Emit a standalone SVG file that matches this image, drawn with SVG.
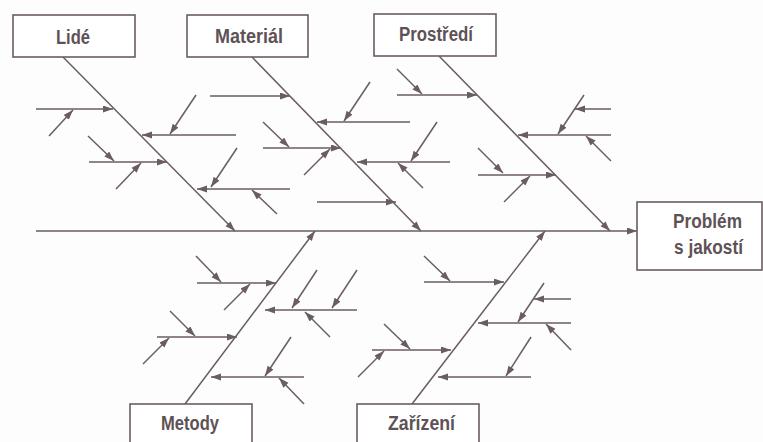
<svg xmlns="http://www.w3.org/2000/svg" width="763" height="442" viewBox="0 0 763 442">
  <defs>
    <marker id="arrow" markerUnits="userSpaceOnUse" markerWidth="11" markerHeight="8" refX="10" refY="3.5" orient="auto">
      <path d="M0,0 L10,3.5 L0,7 Z" fill="#6a5d61"/>
    </marker>
    <style>
      .box { fill: #ffffff; stroke: #6a5d61; stroke-width: 1.6; }
      .lbl { font-family: "Liberation Sans", Arial, sans-serif; font-weight: bold; font-size: 20px; fill: #5e5256; }
      #connectors line { stroke: #6a5d61; stroke-width: 1.5; fill: none; }
      #connectors line.a { marker-end: url(#arrow); }
    </style>
  </defs>

  <rect width="763" height="442" fill="#fdfdfd"/>

  <g id="connectors">
    <!-- main backbone -->
    <line class="a" x1="36" y1="231" x2="637" y2="231"/>

    <!-- Lidé -->
    <line class="a" x1="63" y1="57" x2="235" y2="231"/>
    <line class="a" x1="36" y1="109" x2="113" y2="109"/>
    <line class="a" x1="49" y1="136" x2="73" y2="110"/>
    <line class="a" x1="236" y1="135" x2="142" y2="135"/>
    <line class="a" x1="196" y1="95" x2="170" y2="134"/>
    <line class="a" x1="89" y1="162" x2="167" y2="162"/>
    <line class="a" x1="88" y1="136" x2="114" y2="161"/>
    <line class="a" x1="116" y1="189" x2="141" y2="163"/>
    <line class="a" x1="290" y1="189" x2="197" y2="189"/>
    <line class="a" x1="237" y1="148" x2="211" y2="187"/>
    <line class="a" x1="277" y1="214" x2="252" y2="190"/>

    <!-- Materiál -->
    <line class="a" x1="252" y1="57" x2="421" y2="231"/>
    <line class="a" x1="210" y1="96" x2="290" y2="96"/>
    <line class="a" x1="410" y1="122" x2="317" y2="122"/>
    <line class="a" x1="370" y1="82" x2="344" y2="121"/>
    <line class="a" x1="263" y1="148" x2="341" y2="148"/>
    <line class="a" x1="263" y1="122" x2="289" y2="147"/>
    <line class="a" x1="304" y1="175" x2="330" y2="149"/>
    <line class="a" x1="450" y1="162" x2="357" y2="162"/>
    <line class="a" x1="437" y1="122" x2="411" y2="161"/>
    <line class="a" x1="423" y1="188" x2="398" y2="163"/>
    <line class="a" x1="317" y1="202" x2="396" y2="202"/>

    <!-- Prostředí -->
    <line class="a" x1="439" y1="56" x2="610" y2="231"/>
    <line class="a" x1="397" y1="95" x2="477" y2="95"/>
    <line class="a" x1="397" y1="69" x2="422" y2="94"/>
    <line class="a" x1="611" y1="135" x2="518" y2="135"/>
    <line class="a" x1="584" y1="95" x2="558" y2="134"/>
    <line class="a" x1="611" y1="109" x2="575" y2="109"/>
    <line class="a" x1="611" y1="161" x2="586" y2="136"/>
    <line class="a" x1="478" y1="175" x2="556" y2="175"/>
    <line class="a" x1="478" y1="148" x2="503" y2="173"/>
    <line class="a" x1="504" y1="202" x2="530" y2="176"/>

    <!-- Metody -->
    <line class="a" x1="185" y1="404" x2="315" y2="231"/>
    <line class="a" x1="197" y1="283" x2="276" y2="283"/>
    <line class="a" x1="196" y1="256" x2="221" y2="282"/>
    <line class="a" x1="224" y1="310" x2="250" y2="284"/>
    <line class="a" x1="357" y1="310" x2="265" y2="310"/>
    <line class="a" x1="317" y1="270" x2="292" y2="308"/>
    <line class="a" x1="357" y1="270" x2="332" y2="308"/>
    <line class="a" x1="330" y1="337" x2="305" y2="312"/>
    <line class="a" x1="157" y1="337" x2="237" y2="337"/>
    <line class="a" x1="170" y1="311" x2="195" y2="336"/>
    <line class="a" x1="143" y1="364" x2="169" y2="338"/>
    <line class="a" x1="304" y1="377" x2="211" y2="377"/>
    <line class="a" x1="291" y1="337" x2="265" y2="376"/>
    <line class="a" x1="304" y1="404" x2="279" y2="378"/>

    <!-- Zařízení -->
    <line class="a" x1="412" y1="404" x2="545" y2="231"/>
    <line class="a" x1="424" y1="282" x2="504" y2="282"/>
    <line class="a" x1="424" y1="256" x2="450" y2="281"/>
    <line class="a" x1="571" y1="323" x2="478" y2="323"/>
    <line class="a" x1="544" y1="283" x2="518" y2="322"/>
    <line class="a" x1="571" y1="299" x2="534" y2="299"/>
    <line class="a" x1="571" y1="350" x2="546" y2="324"/>
    <line class="a" x1="372" y1="350" x2="451" y2="350"/>
    <line class="a" x1="384" y1="324" x2="410" y2="349"/>
    <line class="a" x1="358" y1="377" x2="384" y2="351"/>
    <line class="a" x1="531" y1="377" x2="438" y2="377"/>
    <line class="a" x1="531" y1="337" x2="506" y2="376"/>
  </g>

  <g id="lide">
    <rect class="box" x="13" y="15" width="122" height="42"/>
    <text class="lbl" x="56" y="43.5" textLength="34" lengthAdjust="spacingAndGlyphs">Lidé</text>
  </g>
  <g id="material">
    <rect class="box" x="187" y="15" width="121" height="42"/>
    <text class="lbl" x="215" y="43" textLength="68" lengthAdjust="spacingAndGlyphs">Materiál</text>
  </g>
  <g id="prostredi">
    <rect class="box" x="374" y="14" width="122" height="42"/>
    <text class="lbl" x="399" y="41" textLength="74" lengthAdjust="spacingAndGlyphs">Prostředí</text>
  </g>
  <g id="problem">
    <rect class="box" x="637" y="202" width="125" height="68"/>
    <text class="lbl" x="673" y="227.5" textLength="69" lengthAdjust="spacingAndGlyphs">Problém</text>
    <text class="lbl" x="674" y="253.5" textLength="69" lengthAdjust="spacingAndGlyphs">s jakostí</text>
  </g>
  <g id="metody">
    <rect class="box" x="130" y="404" width="122" height="48"/>
    <text class="lbl" x="161" y="430" textLength="58" lengthAdjust="spacingAndGlyphs">Metody</text>
  </g>
  <g id="zarizeni">
    <rect class="box" x="357" y="404" width="122" height="48"/>
    <text class="lbl" x="388" y="430" textLength="67" lengthAdjust="spacingAndGlyphs">Zařízení</text>
  </g>
</svg>
